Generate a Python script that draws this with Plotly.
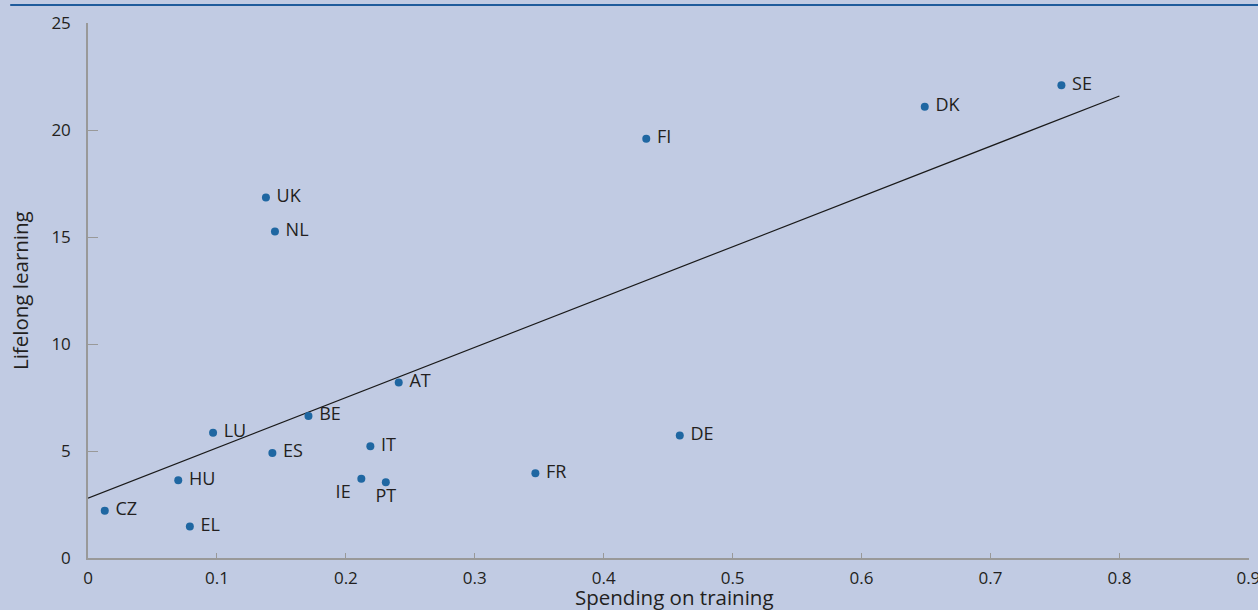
import plotly.graph_objects as go

countries = ["SE", "DK", "FI", "UK", "NL", "AT", "BE", "LU", "ES", "IT", "IE", "PT", "HU", "CZ", "EL", "FR", "DE"]
spending = [0.755, 0.649, 0.433, 0.138, 0.145, 0.241, 0.171, 0.097, 0.143, 0.219, 0.212, 0.231, 0.070, 0.013, 0.079, 0.347, 0.459]
lifelong = [22.1, 21.1, 19.6, 16.85, 15.26, 8.2, 6.64, 5.86, 4.91, 5.22, 3.71, 3.54, 3.64, 2.21, 1.47, 3.96, 5.73]
label_pos = ["middle right"] * 10 + ["bottom left", "bottom center"] + ["middle right"] * 5

trend_x = [0.0, 0.8]
trend_y = [2.8, 21.6]

x_ticks = [0, 0.1, 0.2, 0.3, 0.4, 0.5, 0.6, 0.7, 0.8, 0.9]
x_tick_labels = ["0", "0.1", "0.2", "0.3", "0.4", "0.5", "0.6", "0.7", "0.8", "0.9"]
y_ticks = [0, 5, 10, 15, 20, 25]

BG = "#c1cbe3"
TXT = "#231f20"
FONT = "Open Sans"

fig = go.Figure()
fig.add_trace(go.Scatter(
    x=trend_x, y=trend_y, mode="lines",
    line=dict(color="#1a1a1a", width=1.2), hoverinfo="skip", showlegend=False,
))
fig.add_trace(go.Scatter(
    x=spending, y=lifelong, mode="markers+text",
    text=[" " + c + " " for c in countries], textposition=label_pos,
    textfont=dict(family=FONT, size=18, color=TXT),
    marker=dict(color="#1f67a2", size=8), showlegend=False,
    cliponaxis=False,
))

fig.add_shape(type="line", xref="paper", yref="paper",
              x0=-0.067, x1=1.01, y0=1.0336, y1=1.0336,
              line=dict(color="#1f5c9c", width=2))

fig.add_annotation(text="Spending on training", xref="paper", yref="paper",
                   x=0.505, y=-0.073, xanchor="center", yanchor="middle",
                   showarrow=False, font=dict(family=FONT, size=20.5, color=TXT))
fig.add_annotation(text="Lifelong learning", xref="paper", yref="paper",
                   x=-0.059, y=0.5, xanchor="center", yanchor="middle", textangle=-90,
                   showarrow=False, font=dict(family=FONT, size=20.5, color=TXT))

axis_common = dict(showgrid=False, zeroline=False, showline=True, linecolor="#999999",
                   linewidth=1.5, ticks="inside", tickcolor="#999999",
                   ticklabeloverflow="allow", automargin=False,
                   tickfont=dict(family=FONT, size=17, color=TXT))

fig.update_layout(
    width=1258, height=610,
    margin=dict(l=88, r=9, t=23, b=52),
    paper_bgcolor=BG, plot_bgcolor=BG,
    xaxis=dict(range=[0, 0.9005], tickvals=x_ticks, ticktext=x_tick_labels, ticklen=5,
               ticklabelstandoff=4, **axis_common),
    yaxis=dict(range=[0, 25.01], tickvals=y_ticks, ticklen=10,
               ticklabelstandoff=12, **axis_common),
)

fig.write_html("out.html", config={"displayModeBar": False},
               post_script="document.body.style.margin='0';document.body.style.overflow='hidden';")
